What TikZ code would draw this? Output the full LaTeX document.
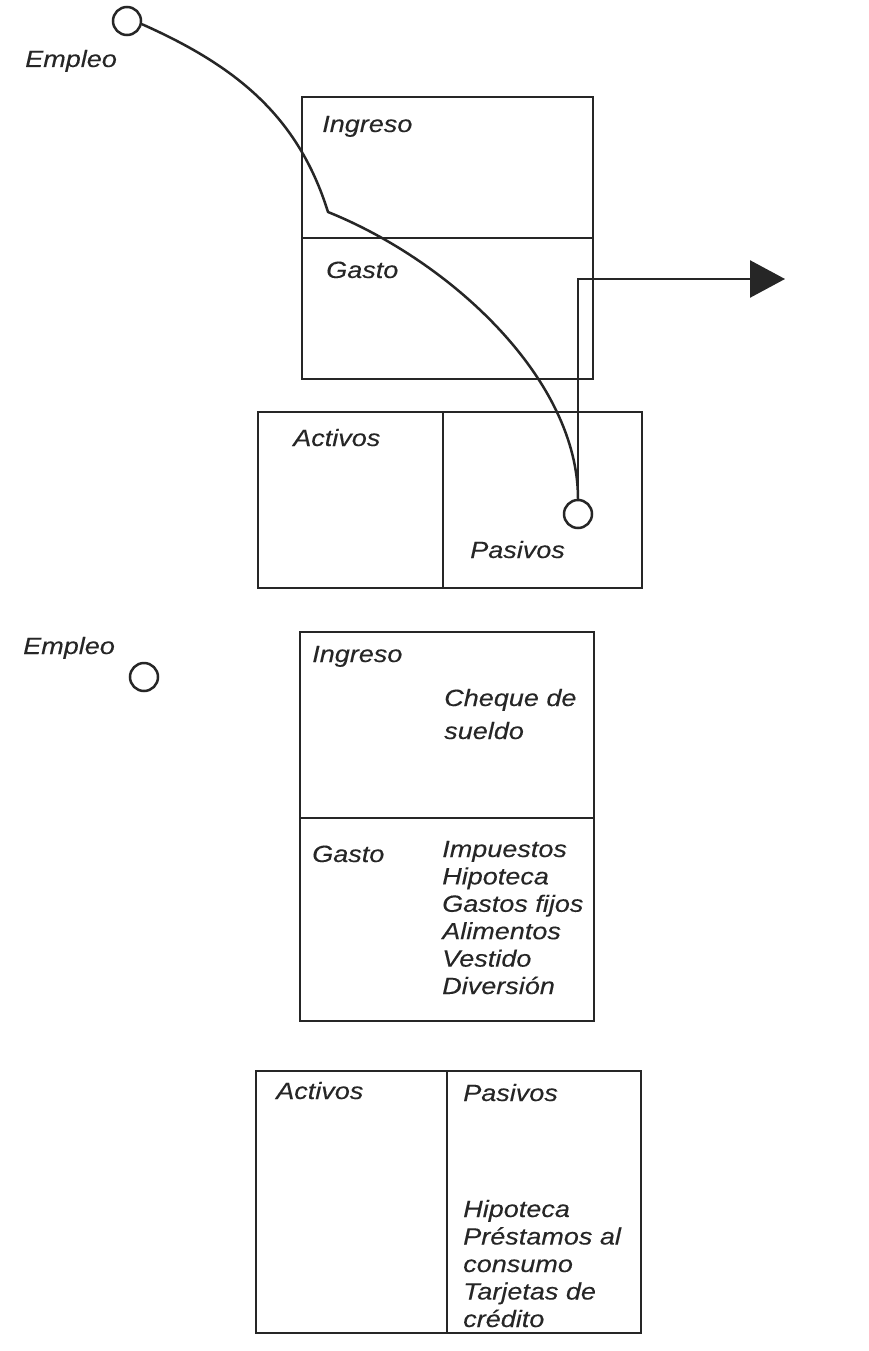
\documentclass[tikz,border=0pt]{standalone}
\usepackage{fontspec}
\newfontfamily\lab{Liberation Sans}[FakeStretch=1.15,FakeBold=0.15]
\usetikzlibrary{arrows.meta}
\definecolor{ink}{HTML}{262626}
\begin{document}
\begin{tikzpicture}[x=1pt,y=-1pt,
  line width=2.5pt, draw=ink,
  cell/.style={draw=ink, line width=2.5pt, anchor=north west, inner sep=0pt, outer sep=0pt},
  lbl/.style={anchor=base west, inner sep=0pt, text=ink, font=\lab\itshape\fontsize{23.5}{27.5}\selectfont},
  dot/.style={circle, draw=ink, line width=2.5pt, minimum size=28pt, inner sep=0pt, fill=white}]
\path[use as bounding box, fill=white] (0,0) rectangle (868,1351);

% ---------- upper diagram ----------
\node[cell, minimum width=291pt, minimum height=141pt] (ingA) at (302,97) {};
\node[cell, minimum width=291pt, minimum height=141pt] (gasA) at (302,238) {};
\node[cell, minimum width=185pt, minimum height=176pt] (actA) at (258,412) {};
\node[cell, minimum width=199pt, minimum height=176pt] (pasA) at (443,412) {};

\node[lbl] (empA) at (24,67) {Empleo};
\node[lbl] (ingAt) at (321,132) {Ingreso};
\node[lbl] (gasAt) at (325,278) {Gasto};
\node[lbl] (actAt) at (292,446) {Activos};
\node[lbl] (pasAt) at (469,558) {Pasivos};

\node[dot] (c1) at (127,21) {};
\node[dot] (c2) at (578,514) {};
\coordinate (k) at (328,212);
\coordinate (tip) at (785,279);

\draw[line width=2.5pt, line join=round] (c1.-12) .. controls (236,66) and (298,116) .. (k)
      .. controls (452,262) and (578,380) .. (c2.north);
\draw[line width=2.5pt, -{Triangle[length=35pt,width=37pt]}] (c2.north) |- (tip);

% ---------- lower diagram ----------
\node[cell, minimum width=294pt, minimum height=186pt] (ingB) at (300,632) {};
\node[cell, minimum width=294pt, minimum height=203pt] (gasB) at (300,818) {};
\node[cell, minimum width=191pt, minimum height=262pt] (actB) at (256,1071) {};
\node[cell, minimum width=194pt, minimum height=262pt] (pasB) at (447,1071) {};

\node[lbl] (empB) at (22,654) {Empleo};
\node[dot] (c3) at (144,677) {};

\node[lbl] (ingBt) at (311,662) {Ingreso};
\node[lbl] (cq1) at (443,706) {Cheque de};
\node[lbl] (cq2) at (443,739) {sueldo};
\node[lbl] (gasBt) at (311,862) {Gasto};
\foreach \t [count=\i from 0] in {Impuestos,Hipoteca,Gastos fijos,Alimentos,Vestido,Diversión}
  \node[lbl] (g\i) at (441,{857+27.4*\i}) {\t};

\node[lbl] (actBt) at (275,1099) {Activos};
\node[lbl] (pasBt) at (462,1101) {Pasivos};
\foreach \t [count=\i from 0] in {Hipoteca,Préstamos al,consumo,Tarjetas de,crédito}
  \node[lbl] (p\i) at (462,{1217+27.5*\i}) {\t};
\end{tikzpicture}
\end{document}
